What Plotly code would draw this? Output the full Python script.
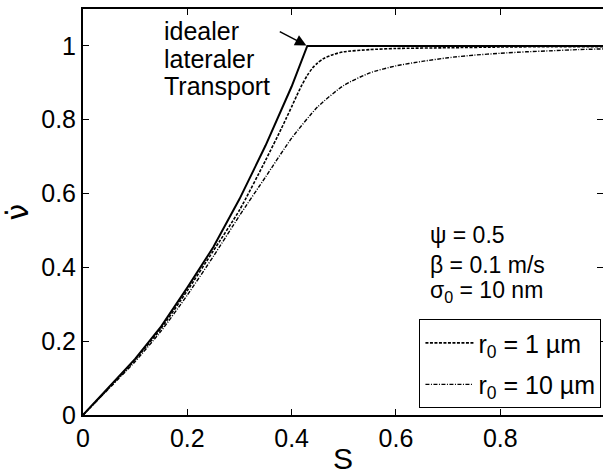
import plotly.graph_objects as go

# Ideal lateral transport: rises to 1 at S ~ 0.43, then stays at 1
s_ideal = [0.0, 0.05, 0.10, 0.15, 0.20, 0.25, 0.30, 0.35, 0.40, 0.43, 1.0]
v_ideal = [0.0, 0.075, 0.152, 0.24, 0.345, 0.455, 0.585, 0.73, 0.89, 1.0, 1.0]

# r0 = 1 um
s_r1 = [0.0, 0.05, 0.10, 0.15, 0.20, 0.25, 0.30, 0.35, 0.38, 0.39, 0.40, 0.41,
        0.42, 0.43, 0.44, 0.45, 0.46, 0.48, 0.50, 0.55, 0.60, 0.70, 0.80, 0.90, 1.0]
v_r1 = [0.0, 0.074, 0.15, 0.235, 0.337, 0.445, 0.555, 0.69, 0.775, 0.805, 0.835, 0.866,
        0.895, 0.92, 0.94, 0.954, 0.965, 0.977, 0.984, 0.99, 0.993, 0.995, 0.997, 0.998, 0.998]

# r0 = 10 um
s_r10 = [0.0, 0.05, 0.10, 0.15, 0.20, 0.25, 0.30, 0.35, 0.40, 0.45, 0.50, 0.55,
         0.60, 0.65, 0.70, 0.75, 0.80, 0.85, 0.90, 0.95, 1.0]
v_r10 = [0.0, 0.072, 0.145, 0.228, 0.325, 0.43, 0.54, 0.645, 0.75, 0.835, 0.893, 0.927,
         0.946, 0.958, 0.968, 0.975, 0.98, 0.984, 0.987, 0.99, 0.992]

x_ticks = [0, 0.2, 0.4, 0.6, 0.8]
x_tick_text = ["0", "0.2", "0.4", "0.6", "0.8"]
y_ticks = [0, 0.2, 0.4, 0.6, 0.8, 1.0]
y_tick_text = ["0", "0.2", "0.4", "0.6", "0.8", "1"]

FONT = "Arial, Liberation Sans, Helvetica, sans-serif"

fig = go.Figure()
fig.add_trace(go.Scatter(x=s_ideal, y=v_ideal, mode="lines",
                         line=dict(color="black", width=2), showlegend=False))
fig.add_trace(go.Scatter(x=s_r1, y=v_r1, mode="lines", name="r<sub>0</sub> = 1 µm",
                         legendgroup="a", line_shape="spline",
                         line=dict(color="black", width=1.6, dash="3px,1.5px", smoothing=0.6)))
fig.add_trace(go.Scatter(x=s_r10, y=v_r10, mode="lines", name="r<sub>0</sub> = 10 µm",
                         legendgroup="b", yaxis="y2", line_shape="spline",
                         line=dict(color="black", width=1.4, dash="4px,1.5px,1px,1.5px",
                                   smoothing=0.6)))

axis_common = dict(showgrid=False, zeroline=False, ticks="inside", ticklen=6,
                   tickwidth=1, tickcolor="black",
                   tickfont=dict(family=FONT, size=25, color="black"))

fig.update_layout(
    width=603, height=475,
    margin=dict(l=83, r=0, t=9, b=54),
    paper_bgcolor="white", plot_bgcolor="white",
    font=dict(family=FONT, color="black"),
    xaxis=dict(range=[0, 0.997], tickvals=x_ticks, ticktext=x_tick_text,
               showline=True, linewidth=2, linecolor="black", mirror="ticks",
               title=dict(text="S", font=dict(family=FONT, size=30), standoff=2),
               **axis_common),
    yaxis=dict(range=[0, 1.1], tickvals=y_ticks, ticktext=y_tick_text,
               showline=True, linewidth=2, linecolor="black", mirror=False,
               title=dict(text="ν̇", font=dict(family="DejaVu Sans", size=30), standoff=4),
               **axis_common),
    yaxis2=dict(range=[0, 1.1], matches="y", overlaying="y", side="right",
                tickvals=y_ticks, showticklabels=False, showline=False,
                showgrid=False, zeroline=False, ticks="inside", ticklen=6,
                tickwidth=1, tickcolor="black"),
    legend=dict(x=0.997, xanchor="right", y=0.017, yanchor="bottom",
                bgcolor="white", bordercolor="black", borderwidth=1,
                font=dict(family=FONT, size=25, color="black"),
                tracegroupgap=6, itemwidth=48),
    showlegend=True,
)

# text labels
labels_left = [("idealer", 0.947), ("lateraler", 0.878), ("Transport", 0.811)]
for txt, yp in labels_left:
    fig.add_annotation(text=txt, xref="paper", yref="paper", x=0.152, y=yp,
                       xanchor="left", yanchor="middle", showarrow=False,
                       font=dict(family=FONT, size=25, color="black"))

params = [("ψ = 0.5", 0.443), ("β = 0.1 m/s", 0.369), ("σ<sub>0</sub> = 10 nm", 0.304)]
for txt, yp in params:
    fig.add_annotation(text=txt, xref="paper", yref="paper", x=0.664, y=yp,
                       xanchor="left", yanchor="middle", showarrow=False,
                       font=dict(family=FONT, size=23, color="black"))

# arrow pointing at the kink of the ideal curve
fig.add_annotation(x=s_ideal[9], y=v_ideal[9], xref="x", yref="y", text="",
                   showarrow=True, arrowhead=2, arrowsize=1.5, arrowwidth=1.5,
                   arrowcolor="black", ax=-29, ay=-15, standoff=1)

fig.write_html("out.html")
